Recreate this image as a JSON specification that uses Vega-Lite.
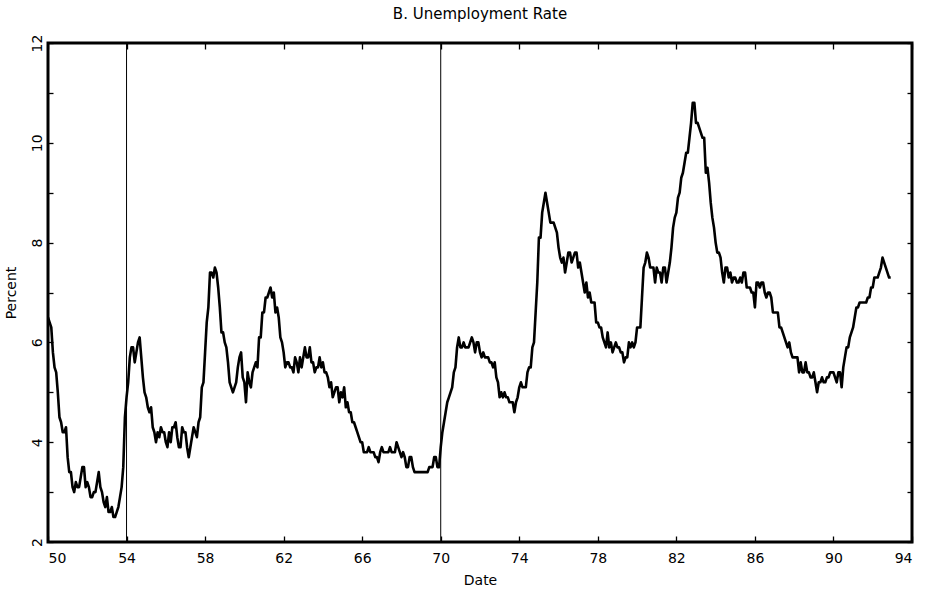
{
  "$schema": "https://vega.github.io/schema/vega-lite/v6.json",
  "width": 864,
  "height": 499,
  "autosize": "none",
  "padding": {"left": 48, "top": 43, "right": 15, "bottom": 52},
  "background": "white",
  "title": {
    "text": "B. Unemployment Rate",
    "font": "DejaVu Sans",
    "fontSize": 15,
    "fontWeight": "normal",
    "color": "black",
    "anchor": "middle",
    "frame": "group",
    "offset": 12
  },
  "config": {
    "view": {"stroke": "black", "strokeWidth": 3},
    "font": "DejaVu Sans",
    "axis": {
      "grid": false,
      "domain": false,
      "tickColor": "black",
      "tickWidth": 1.3,
      "labelColor": "black",
      "labelFontSize": 14,
      "titleColor": "black",
      "titleFontSize": 14,
      "titleFontWeight": "normal"
    }
  },
  "datasets": {
    "unemployment": [
      {"t":50,"u":6.5},{"t":50.083,"u":6.4},{"t":50.167,"u":6.3},{"t":50.25,"u":5.8},{"t":50.333,"u":5.5},{"t":50.417,"u":5.4},{"t":50.5,"u":5.0},{"t":50.583,"u":4.5},{"t":50.667,"u":4.4},{"t":50.75,"u":4.2},{"t":50.833,"u":4.2},{"t":50.917,"u":4.3},
      {"t":51,"u":3.7},{"t":51.083,"u":3.4},{"t":51.167,"u":3.4},{"t":51.25,"u":3.1},{"t":51.333,"u":3.0},{"t":51.417,"u":3.2},{"t":51.5,"u":3.1},{"t":51.583,"u":3.1},{"t":51.667,"u":3.3},{"t":51.75,"u":3.5},{"t":51.833,"u":3.5},{"t":51.917,"u":3.1},
      {"t":52,"u":3.2},{"t":52.083,"u":3.1},{"t":52.167,"u":2.9},{"t":52.25,"u":2.9},{"t":52.333,"u":3.0},{"t":52.417,"u":3.0},{"t":52.5,"u":3.2},{"t":52.583,"u":3.4},{"t":52.667,"u":3.1},{"t":52.75,"u":3.0},{"t":52.833,"u":2.8},{"t":52.917,"u":2.7},
      {"t":53,"u":2.9},{"t":53.083,"u":2.6},{"t":53.167,"u":2.6},{"t":53.25,"u":2.7},{"t":53.333,"u":2.5},{"t":53.417,"u":2.5},{"t":53.5,"u":2.6},{"t":53.583,"u":2.7},{"t":53.667,"u":2.9},{"t":53.75,"u":3.1},{"t":53.833,"u":3.5},{"t":53.917,"u":4.5},
      {"t":54,"u":4.9},{"t":54.083,"u":5.2},{"t":54.167,"u":5.7},{"t":54.25,"u":5.9},{"t":54.333,"u":5.9},{"t":54.417,"u":5.6},{"t":54.5,"u":5.8},{"t":54.583,"u":6.0},{"t":54.667,"u":6.1},{"t":54.75,"u":5.7},{"t":54.833,"u":5.3},{"t":54.917,"u":5.0},
      {"t":55,"u":4.9},{"t":55.083,"u":4.7},{"t":55.167,"u":4.6},{"t":55.25,"u":4.7},{"t":55.333,"u":4.3},{"t":55.417,"u":4.2},{"t":55.5,"u":4.0},{"t":55.583,"u":4.2},{"t":55.667,"u":4.1},{"t":55.75,"u":4.3},{"t":55.833,"u":4.2},{"t":55.917,"u":4.2},
      {"t":56,"u":4.0},{"t":56.083,"u":3.9},{"t":56.167,"u":4.2},{"t":56.25,"u":4.0},{"t":56.333,"u":4.3},{"t":56.417,"u":4.3},{"t":56.5,"u":4.4},{"t":56.583,"u":4.1},{"t":56.667,"u":3.9},{"t":56.75,"u":3.9},{"t":56.833,"u":4.3},{"t":56.917,"u":4.2},
      {"t":57,"u":4.2},{"t":57.083,"u":3.9},{"t":57.167,"u":3.7},{"t":57.25,"u":3.9},{"t":57.333,"u":4.1},{"t":57.417,"u":4.3},{"t":57.5,"u":4.2},{"t":57.583,"u":4.1},{"t":57.667,"u":4.4},{"t":57.75,"u":4.5},{"t":57.833,"u":5.1},{"t":57.917,"u":5.2},
      {"t":58,"u":5.8},{"t":58.083,"u":6.4},{"t":58.167,"u":6.7},{"t":58.25,"u":7.4},{"t":58.333,"u":7.4},{"t":58.417,"u":7.3},{"t":58.5,"u":7.5},{"t":58.583,"u":7.4},{"t":58.667,"u":7.1},{"t":58.75,"u":6.7},{"t":58.833,"u":6.2},{"t":58.917,"u":6.2},
      {"t":59,"u":6.0},{"t":59.083,"u":5.9},{"t":59.167,"u":5.6},{"t":59.25,"u":5.2},{"t":59.333,"u":5.1},{"t":59.417,"u":5.0},{"t":59.5,"u":5.1},{"t":59.583,"u":5.2},{"t":59.667,"u":5.5},{"t":59.75,"u":5.7},{"t":59.833,"u":5.8},{"t":59.917,"u":5.3},
      {"t":60,"u":5.2},{"t":60.083,"u":4.8},{"t":60.167,"u":5.4},{"t":60.25,"u":5.2},{"t":60.333,"u":5.1},{"t":60.417,"u":5.4},{"t":60.5,"u":5.5},{"t":60.583,"u":5.6},{"t":60.667,"u":5.5},{"t":60.75,"u":6.1},{"t":60.833,"u":6.1},{"t":60.917,"u":6.6},
      {"t":61,"u":6.6},{"t":61.083,"u":6.9},{"t":61.167,"u":6.9},{"t":61.25,"u":7.0},{"t":61.333,"u":7.1},{"t":61.417,"u":6.9},{"t":61.5,"u":7.0},{"t":61.583,"u":6.6},{"t":61.667,"u":6.7},{"t":61.75,"u":6.5},{"t":61.833,"u":6.1},{"t":61.917,"u":6.0},
      {"t":62,"u":5.8},{"t":62.083,"u":5.5},{"t":62.167,"u":5.6},{"t":62.25,"u":5.6},{"t":62.333,"u":5.5},{"t":62.417,"u":5.5},{"t":62.5,"u":5.4},{"t":62.583,"u":5.7},{"t":62.667,"u":5.6},{"t":62.75,"u":5.4},{"t":62.833,"u":5.7},{"t":62.917,"u":5.5},
      {"t":63,"u":5.7},{"t":63.083,"u":5.9},{"t":63.167,"u":5.7},{"t":63.25,"u":5.7},{"t":63.333,"u":5.9},{"t":63.417,"u":5.6},{"t":63.5,"u":5.6},{"t":63.583,"u":5.4},{"t":63.667,"u":5.5},{"t":63.75,"u":5.5},{"t":63.833,"u":5.7},{"t":63.917,"u":5.5},
      {"t":64,"u":5.6},{"t":64.083,"u":5.4},{"t":64.167,"u":5.4},{"t":64.25,"u":5.3},{"t":64.333,"u":5.1},{"t":64.417,"u":5.2},{"t":64.5,"u":4.9},{"t":64.583,"u":5.0},{"t":64.667,"u":5.1},{"t":64.75,"u":5.1},{"t":64.833,"u":4.8},{"t":64.917,"u":5.0},
      {"t":65,"u":4.9},{"t":65.083,"u":5.1},{"t":65.167,"u":4.7},{"t":65.25,"u":4.8},{"t":65.333,"u":4.6},{"t":65.417,"u":4.6},{"t":65.5,"u":4.4},{"t":65.583,"u":4.4},{"t":65.667,"u":4.3},{"t":65.75,"u":4.2},{"t":65.833,"u":4.1},{"t":65.917,"u":4.0},
      {"t":66,"u":4.0},{"t":66.083,"u":3.8},{"t":66.167,"u":3.8},{"t":66.25,"u":3.8},{"t":66.333,"u":3.9},{"t":66.417,"u":3.8},{"t":66.5,"u":3.8},{"t":66.583,"u":3.8},{"t":66.667,"u":3.7},{"t":66.75,"u":3.7},{"t":66.833,"u":3.6},{"t":66.917,"u":3.8},
      {"t":67,"u":3.9},{"t":67.083,"u":3.8},{"t":67.167,"u":3.8},{"t":67.25,"u":3.8},{"t":67.333,"u":3.8},{"t":67.417,"u":3.9},{"t":67.5,"u":3.8},{"t":67.583,"u":3.8},{"t":67.667,"u":3.8},{"t":67.75,"u":4.0},{"t":67.833,"u":3.9},{"t":67.917,"u":3.8},
      {"t":68,"u":3.7},{"t":68.083,"u":3.8},{"t":68.167,"u":3.7},{"t":68.25,"u":3.5},{"t":68.333,"u":3.5},{"t":68.417,"u":3.7},{"t":68.5,"u":3.7},{"t":68.583,"u":3.5},{"t":68.667,"u":3.4},{"t":68.75,"u":3.4},{"t":68.833,"u":3.4},{"t":68.917,"u":3.4},
      {"t":69,"u":3.4},{"t":69.083,"u":3.4},{"t":69.167,"u":3.4},{"t":69.25,"u":3.4},{"t":69.333,"u":3.4},{"t":69.417,"u":3.5},{"t":69.5,"u":3.5},{"t":69.583,"u":3.5},{"t":69.667,"u":3.7},{"t":69.75,"u":3.7},{"t":69.833,"u":3.5},{"t":69.917,"u":3.5},
      {"t":70,"u":3.9},{"t":70.083,"u":4.2},{"t":70.167,"u":4.4},{"t":70.25,"u":4.6},{"t":70.333,"u":4.8},{"t":70.417,"u":4.9},{"t":70.5,"u":5.0},{"t":70.583,"u":5.1},{"t":70.667,"u":5.4},{"t":70.75,"u":5.5},{"t":70.833,"u":5.9},{"t":70.917,"u":6.1},
      {"t":71,"u":5.9},{"t":71.083,"u":5.9},{"t":71.167,"u":6.0},{"t":71.25,"u":5.9},{"t":71.333,"u":5.9},{"t":71.417,"u":5.9},{"t":71.5,"u":6.0},{"t":71.583,"u":6.1},{"t":71.667,"u":6.0},{"t":71.75,"u":5.8},{"t":71.833,"u":6.0},{"t":71.917,"u":6.0},
      {"t":72,"u":5.8},{"t":72.083,"u":5.7},{"t":72.167,"u":5.8},{"t":72.25,"u":5.7},{"t":72.333,"u":5.7},{"t":72.417,"u":5.7},{"t":72.5,"u":5.6},{"t":72.583,"u":5.6},{"t":72.667,"u":5.5},{"t":72.75,"u":5.6},{"t":72.833,"u":5.3},{"t":72.917,"u":5.2},
      {"t":73,"u":4.9},{"t":73.083,"u":5.0},{"t":73.167,"u":4.9},{"t":73.25,"u":5.0},{"t":73.333,"u":4.9},{"t":73.417,"u":4.9},{"t":73.5,"u":4.8},{"t":73.583,"u":4.8},{"t":73.667,"u":4.8},{"t":73.75,"u":4.6},{"t":73.833,"u":4.8},{"t":73.917,"u":4.9},
      {"t":74,"u":5.1},{"t":74.083,"u":5.2},{"t":74.167,"u":5.1},{"t":74.25,"u":5.1},{"t":74.333,"u":5.1},{"t":74.417,"u":5.4},{"t":74.5,"u":5.5},{"t":74.583,"u":5.5},{"t":74.667,"u":5.9},{"t":74.75,"u":6.0},{"t":74.833,"u":6.6},{"t":74.917,"u":7.2},
      {"t":75,"u":8.1},{"t":75.083,"u":8.1},{"t":75.167,"u":8.6},{"t":75.25,"u":8.8},{"t":75.333,"u":9.0},{"t":75.417,"u":8.8},{"t":75.5,"u":8.6},{"t":75.583,"u":8.4},{"t":75.667,"u":8.4},{"t":75.75,"u":8.4},{"t":75.833,"u":8.3},{"t":75.917,"u":8.2},
      {"t":76,"u":7.9},{"t":76.083,"u":7.7},{"t":76.167,"u":7.6},{"t":76.25,"u":7.7},{"t":76.333,"u":7.4},{"t":76.417,"u":7.6},{"t":76.5,"u":7.8},{"t":76.583,"u":7.8},{"t":76.667,"u":7.6},{"t":76.75,"u":7.7},{"t":76.833,"u":7.8},{"t":76.917,"u":7.8},
      {"t":77,"u":7.5},{"t":77.083,"u":7.6},{"t":77.167,"u":7.4},{"t":77.25,"u":7.2},{"t":77.333,"u":7.0},{"t":77.417,"u":7.2},{"t":77.5,"u":6.9},{"t":77.583,"u":7.0},{"t":77.667,"u":6.8},{"t":77.75,"u":6.8},{"t":77.833,"u":6.8},{"t":77.917,"u":6.4},
      {"t":78,"u":6.4},{"t":78.083,"u":6.3},{"t":78.167,"u":6.3},{"t":78.25,"u":6.1},{"t":78.333,"u":6.0},{"t":78.417,"u":5.9},{"t":78.5,"u":6.2},{"t":78.583,"u":5.9},{"t":78.667,"u":6.0},{"t":78.75,"u":5.8},{"t":78.833,"u":5.9},{"t":78.917,"u":6.0},
      {"t":79,"u":5.9},{"t":79.083,"u":5.9},{"t":79.167,"u":5.8},{"t":79.25,"u":5.8},{"t":79.333,"u":5.6},{"t":79.417,"u":5.7},{"t":79.5,"u":5.7},{"t":79.583,"u":6.0},{"t":79.667,"u":5.9},{"t":79.75,"u":6.0},{"t":79.833,"u":5.9},{"t":79.917,"u":6.0},
      {"t":80,"u":6.3},{"t":80.083,"u":6.3},{"t":80.167,"u":6.3},{"t":80.25,"u":6.9},{"t":80.333,"u":7.5},{"t":80.417,"u":7.6},{"t":80.5,"u":7.8},{"t":80.583,"u":7.7},{"t":80.667,"u":7.5},{"t":80.75,"u":7.5},{"t":80.833,"u":7.5},{"t":80.917,"u":7.2},
      {"t":81,"u":7.5},{"t":81.083,"u":7.4},{"t":81.167,"u":7.4},{"t":81.25,"u":7.2},{"t":81.333,"u":7.5},{"t":81.417,"u":7.5},{"t":81.5,"u":7.2},{"t":81.583,"u":7.4},{"t":81.667,"u":7.6},{"t":81.75,"u":7.9},{"t":81.833,"u":8.3},{"t":81.917,"u":8.5},
      {"t":82,"u":8.6},{"t":82.083,"u":8.9},{"t":82.167,"u":9.0},{"t":82.25,"u":9.3},{"t":82.333,"u":9.4},{"t":82.417,"u":9.6},{"t":82.5,"u":9.8},{"t":82.583,"u":9.8},{"t":82.667,"u":10.1},{"t":82.75,"u":10.4},{"t":82.833,"u":10.8},{"t":82.917,"u":10.8},
      {"t":83,"u":10.4},{"t":83.083,"u":10.4},{"t":83.167,"u":10.3},{"t":83.25,"u":10.2},{"t":83.333,"u":10.1},{"t":83.417,"u":10.1},{"t":83.5,"u":9.4},{"t":83.583,"u":9.5},{"t":83.667,"u":9.2},{"t":83.75,"u":8.8},{"t":83.833,"u":8.5},{"t":83.917,"u":8.3},
      {"t":84,"u":8.0},{"t":84.083,"u":7.8},{"t":84.167,"u":7.8},{"t":84.25,"u":7.7},{"t":84.333,"u":7.4},{"t":84.417,"u":7.2},{"t":84.5,"u":7.5},{"t":84.583,"u":7.5},{"t":84.667,"u":7.3},{"t":84.75,"u":7.4},{"t":84.833,"u":7.2},{"t":84.917,"u":7.3},
      {"t":85,"u":7.3},{"t":85.083,"u":7.2},{"t":85.167,"u":7.2},{"t":85.25,"u":7.3},{"t":85.333,"u":7.2},{"t":85.417,"u":7.4},{"t":85.5,"u":7.4},{"t":85.583,"u":7.1},{"t":85.667,"u":7.1},{"t":85.75,"u":7.1},{"t":85.833,"u":7.0},{"t":85.917,"u":7.0},
      {"t":86,"u":6.7},{"t":86.083,"u":7.2},{"t":86.167,"u":7.2},{"t":86.25,"u":7.1},{"t":86.333,"u":7.2},{"t":86.417,"u":7.2},{"t":86.5,"u":7.0},{"t":86.583,"u":6.9},{"t":86.667,"u":7.0},{"t":86.75,"u":7.0},{"t":86.833,"u":6.9},{"t":86.917,"u":6.6},
      {"t":87,"u":6.6},{"t":87.083,"u":6.6},{"t":87.167,"u":6.6},{"t":87.25,"u":6.3},{"t":87.333,"u":6.3},{"t":87.417,"u":6.2},{"t":87.5,"u":6.1},{"t":87.583,"u":6.0},{"t":87.667,"u":5.9},{"t":87.75,"u":6.0},{"t":87.833,"u":5.8},{"t":87.917,"u":5.7},
      {"t":88,"u":5.7},{"t":88.083,"u":5.7},{"t":88.167,"u":5.7},{"t":88.25,"u":5.4},{"t":88.333,"u":5.6},{"t":88.417,"u":5.4},{"t":88.5,"u":5.4},{"t":88.583,"u":5.6},{"t":88.667,"u":5.4},{"t":88.75,"u":5.4},{"t":88.833,"u":5.3},{"t":88.917,"u":5.3},
      {"t":89,"u":5.4},{"t":89.083,"u":5.2},{"t":89.167,"u":5.0},{"t":89.25,"u":5.2},{"t":89.333,"u":5.2},{"t":89.417,"u":5.3},{"t":89.5,"u":5.2},{"t":89.583,"u":5.2},{"t":89.667,"u":5.3},{"t":89.75,"u":5.3},{"t":89.833,"u":5.4},{"t":89.917,"u":5.4},
      {"t":90,"u":5.4},{"t":90.083,"u":5.3},{"t":90.167,"u":5.2},{"t":90.25,"u":5.4},{"t":90.333,"u":5.4},{"t":90.417,"u":5.1},{"t":90.5,"u":5.5},{"t":90.583,"u":5.7},{"t":90.667,"u":5.9},{"t":90.75,"u":5.9},{"t":90.833,"u":6.1},{"t":90.917,"u":6.2},
      {"t":91,"u":6.3},{"t":91.083,"u":6.5},{"t":91.167,"u":6.7},{"t":91.25,"u":6.7},{"t":91.333,"u":6.8},{"t":91.417,"u":6.8},{"t":91.5,"u":6.8},{"t":91.583,"u":6.8},{"t":91.667,"u":6.8},{"t":91.75,"u":6.9},{"t":91.833,"u":6.9},{"t":91.917,"u":7.1},
      {"t":92,"u":7.1},{"t":92.083,"u":7.3},{"t":92.167,"u":7.3},{"t":92.25,"u":7.3},{"t":92.333,"u":7.4},{"t":92.417,"u":7.5},{"t":92.5,"u":7.7},{"t":92.583,"u":7.6},{"t":92.667,"u":7.5},{"t":92.75,"u":7.4},{"t":92.833,"u":7.3},{"t":92.917,"u":7.3}
    ],
    "breaks": [{"t": 54}, {"t": 70}]
  },
  "layer": [
    {
      "data": {"name": "breaks"},
      "mark": {"type": "rule", "color": "black", "strokeWidth": 1},
      "encoding": {
        "x": {
          "field": "t",
          "type": "quantitative",
          "scale": {"domain": [50, 94], "nice": false, "zero": false},
          "axis": {
            "orient": "top",
            "values": [50, 54, 58, 62, 66, 70, 74, 78, 82, 86, 90, 94],
            "labels": false,
            "tickSize": -6,
            "title": null
          }
        }
      }
    },
    {
      "data": {"name": "unemployment"},
      "mark": {"type": "line", "color": "black", "strokeWidth": 2.6, "strokeJoin": "round", "clip": true},
      "encoding": {
        "x": {
          "field": "t",
          "type": "quantitative",
          "scale": {"domain": [50, 94], "nice": false, "zero": false},
          "axis": {
            "orient": "bottom",
            "values": [50, 54, 58, 62, 66, 70, 74, 78, 82, 86, 90, 94],
            "tickSize": -6,
            "labelPadding": 15,
            "title": "Date",
            "titlePadding": 8
          }
        },
        "y": {
          "field": "u",
          "type": "quantitative",
          "scale": {"domain": [2, 12], "nice": false, "zero": false},
          "axis": {
            "orient": "left",
            "values": [2, 3, 4, 5, 6, 7, 8, 9, 10, 11, 12],
            "labelExpr": "datum.value % 2 == 0 ? datum.label : ''",
            "labelAngle": -90,
            "tickSize": -5,
            "labelPadding": 9,
            "title": "Percent",
            "titlePadding": 12
          }
        }
      }
    },
    {
      "data": {"name": "unemployment"},
      "mark": {"type": "point", "opacity": 0, "size": 0},
      "encoding": {
        "x": {"field": "t", "type": "quantitative", "scale": {"domain": [50, 94], "nice": false, "zero": false}, "axis": null},
        "y": {
          "field": "u",
          "type": "quantitative",
          "scale": {"domain": [2, 12], "nice": false, "zero": false},
          "axis": {
            "orient": "right",
            "values": [2, 3, 4, 5, 6, 7, 8, 9, 10, 11, 12],
            "labels": false,
            "tickSize": -5,
            "title": null
          }
        }
      }
    }
  ],
  "resolve": {"axis": {"x": "independent", "y": "independent"}}
}
